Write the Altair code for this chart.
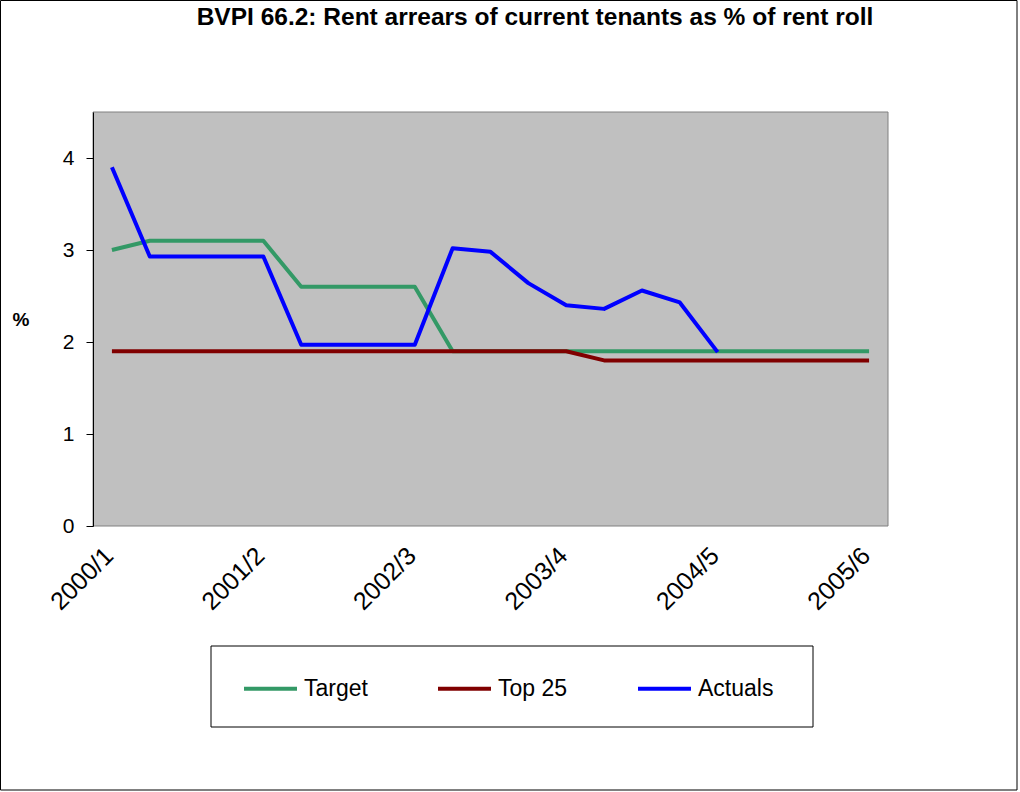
import altair as alt
import pandas as pd

# Reporting periods: quarters 0..20, with the financial year marked every fourth quarter
n_periods = 21
year_labels = ["2000/1", "2001/2", "2002/3", "2003/4", "2004/5", "2005/6"]
year_pos = [0, 4, 8, 12, 16, 20]

series_names = ["Target", "Top 25", "Actuals"]
series_colors = ["#339966", "#800000", "#0000FF"]

target = [3.0, 3.1, 3.1, 3.1, 3.1, 2.6, 2.6, 2.6, 2.6, 1.9, 1.9,
          1.9, 1.9, 1.9, 1.9, 1.9, 1.9, 1.9, 1.9, 1.9, 1.9]
top25 = [1.9, 1.9, 1.9, 1.9, 1.9, 1.9, 1.9, 1.9, 1.9, 1.9, 1.9,
         1.9, 1.9, 1.8, 1.8, 1.8, 1.8, 1.8, 1.8, 1.8, 1.8]
actuals = [3.9, 2.93, 2.93, 2.93, 2.93, 1.97, 1.97, 1.97, 1.97, 3.02, 2.98,
           2.64, 2.40, 2.36, 2.56, 2.43, 1.89]

rows = []
for name, vals in zip(series_names, [target, top25, actuals]):
    for i, v in enumerate(vals):
        rows.append({"idx": i, "series": name, "value": v})
df = pd.DataFrame(rows)
years_df = pd.DataFrame({"idx": year_pos, "label": year_labels})

FONT = "Liberation Sans"
W, H = 795, 414

# category slots: each quarter occupies one unit, ticks sit on slot boundaries
x_scale = alt.Scale(domain=[-0.5, n_periods - 0.5], nice=False, zero=False)
slot_edges = [i - 0.5 for i in range(n_periods + 1)]

frame = alt.Data(values=[{"k": 1}])

# outer chart border (also sets the overall chart bounds)
outer = alt.Chart(frame).mark_rect(fill="white", stroke="black", strokeWidth=1).encode(
    x=alt.value(-92.5), x2=alt.value(924), y=alt.value(-111.5), y2=alt.value(678)
)

# grey plot area
plot_bg = alt.Chart(frame).mark_rect(fill="#C0C0C0", stroke="#808080", strokeWidth=1).encode(
    x=alt.value(0), x2=alt.value(W), y=alt.value(0), y2=alt.value(H)
)

# legend frame
legend_box = alt.Chart(frame).mark_rect(fill="white", stroke="black", strokeWidth=1).encode(
    x=alt.value(118), x2=alt.value(720), y=alt.value(534), y2=alt.value(615)
)

lines = alt.Chart(df).mark_line(strokeWidth=4, strokeJoin="round").encode(
    x=alt.X(
        "idx:Q",
        scale=x_scale,
        axis=alt.Axis(
            title=None,
            values=slot_edges,
            labels=False,
            tickSize=7,
            tickColor="black",
            domainColor="black",
            grid=False,
            zindex=1,
        ),
    ),
    y=alt.Y(
        "value:Q",
        scale=alt.Scale(domain=[0, 4.5], nice=False),
        axis=alt.Axis(
            title=None,
            values=[0, 1, 2, 3, 4],
            labelFontSize=21,
            labelFont=FONT,
            labelColor="black",
            labelPadding=12,
            tickSize=7,
            tickColor="black",
            domainColor="black",
            grid=False,
            zindex=1,
        ),
    ),
    color=alt.Color(
        "series:N",
        scale=alt.Scale(domain=series_names, range=series_colors),
        legend=alt.Legend(
            title=None,
            orient="none",
            direction="horizontal",
            legendX=149,
            legendY=548,
            symbolType="stroke",
            symbolSize=2809,
            symbolStrokeWidth=4,
            labelFont=FONT,
            labelFontSize=23,
            labelColor="black",
            labelOffset=5,
            columnPadding=62,
        ),
    ),
    order="idx:Q",
)

# financial-year labels under the axis
x_labels = alt.Chart(years_df).mark_text(
    angle=315, align="right", baseline="middle", font=FONT, fontSize=25, color="black", dx=-4
).encode(
    x=alt.X("idx:Q", scale=x_scale, axis=None),
    y=alt.value(H + 23),
    text="label:N",
)

y_title = alt.Chart(frame).mark_text(
    text="%", font=FONT, fontSize=19, fontWeight="bold", color="black",
    align="center", baseline="middle",
).encode(x=alt.value(-72), y=alt.value(208))

title = alt.Chart(frame).mark_text(
    text="BVPI 66.2: Rent arrears of current tenants as % of rent roll",
    font=FONT, fontSize=24.5, fontWeight="bold", color="black",
    align="center", baseline="alphabetic",
).encode(x=alt.value(442), y=alt.value(-87))

chart = alt.layer(
    outer, plot_bg, legend_box, lines, x_labels, y_title, title
).properties(
    width=W,
    height=H,
    padding=0,
    background="white",
).configure_view(
    stroke=None
)

chart.save("out.html", embed_options={"renderer": "svg", "actions": False})
